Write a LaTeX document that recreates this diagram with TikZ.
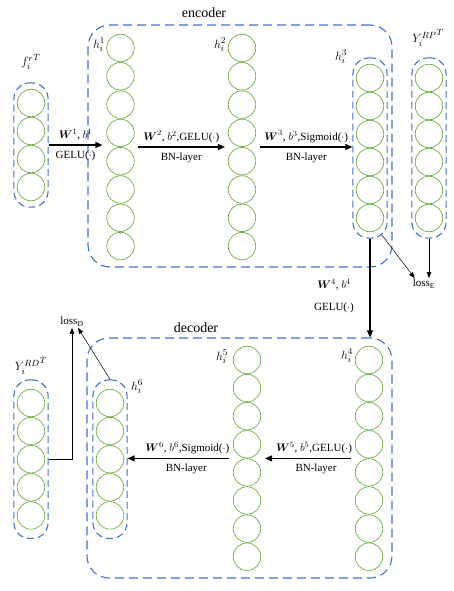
\documentclass[tikz,border=0pt]{standalone}
\usepackage{amsmath}
\usepackage{fontspec}
\setmainfont{Liberation Serif}
\usetikzlibrary{arrows.meta,fit,calc}

\definecolor{neurongreen}{RGB}{112,173,71}
\definecolor{boxblue}{RGB}{68,114,196}

\tikzset{
    neuron/.style={circle, draw=neurongreen, line width=0.7pt, minimum size=27.5pt, inner sep=0pt},
    layerbox/.style={draw=boxblue, line width=1.1pt, dash pattern=on 7pt off 4pt, rounded corners=16pt, inner xsep=3pt, inner ysep=6pt},
    groupbox/.style={draw=boxblue, line width=1.1pt, dash pattern=on 9pt off 5pt, rounded corners=22pt, inner sep=0pt},
    flow/.style={-{Triangle[length=7pt,width=6pt]}, line width=1.2pt},
    lossflow/.style={-{Triangle[length=6pt,width=4.5pt]}, line width=0.5pt},
    lbl/.style={font=\fontsize{11}{13}\selectfont, inner sep=1pt},
    hlbl/.style={font=\fontsize{13}{15}\selectfont, inner sep=0pt},
}

\begin{document}
\begin{tikzpicture}[x=1pt, y=-1pt]
    \useasboundingbox (0,0) rectangle (454,591);

    % encoder / decoder frames
    \node[groupbox, minimum width=304pt, minimum height=242pt] (encoder) at (240,146) {};
    \node[groupbox, minimum width=305pt, minimum height=240pt] (decoder) at (239.5,458) {};
    \node[font=\fontsize{14}{16}\selectfont] (enclabel) at (204,13) {encoder};
    \node[font=\fontsize{14}{16}\selectfont] (declabel) at (196,328) {decoder};

    % encoder side columns
    \foreach \i in {1,...,4}
        \node[neuron] (f-\i) at (31, 103+28*\i-28) {};
    \foreach \i in {1,...,8} {
        \node[neuron] (h1-\i) at (120.5, 48+28.3*\i-28.3) {};
        \node[neuron] (h2-\i) at (242, 48+28.3*\i-28.3) {};
    }
    \foreach \i in {1,...,6} {
        \node[neuron] (h3-\i) at (370, 78+28*\i-28) {};
        \node[neuron] (yrp-\i) at (429, 78+28*\i-28) {};
    }
    \node[layerbox, fit=(f-1)(f-4)] (fbox) {};
    \node[layerbox, fit=(h3-1)(h3-6)] (h3box) {};
    \node[layerbox, fit=(yrp-1)(yrp-6)] (yrpbox) {};

    % decoder side columns
    \foreach \i in {1,...,8} {
        \node[neuron] (h4-\i) at (369, 360+28.1*\i-28.1) {};
        \node[neuron] (h5-\i) at (247, 360+28.1*\i-28.1) {};
    }
    \foreach \i in {1,...,5} {
        \node[neuron] (h6-\i) at (110, 403+28.1*\i-28.1) {};
        \node[neuron] (yrd-\i) at (31, 403+28.1*\i-28.1) {};
    }
    \node[layerbox, inner ysep=9pt, fit=(h6-1)(h6-5)] (h6box) {};
    \node[layerbox, inner ysep=9pt, fit=(yrd-1)(yrd-5)] (yrdbox) {};

    % column labels
    \node[hlbl] (flabel) at (31,62) {${f_i^{r}}^{T}$};
    \node[hlbl] (h1label) at (99,45) {$h_i^1$};
    \node[hlbl] (h2label) at (220,45) {$h_i^2$};
    \node[hlbl] (h3label) at (341,57) {$h_i^3$};
    \node[hlbl] (yrplabel) at (428,38) {${Y_i^{RP}}^{T}$};
    \node[hlbl] (h4label) at (347,356) {$h_i^4$};
    \node[hlbl] (h5label) at (222,357) {$h_i^5$};
    \node[hlbl] (h6label) at (137,387) {$h_i^6$};
    \node[hlbl] (yrdlabel) at (31,366) {${Y_i^{RD}}^{T}$};

    % encoder flow
    \draw[flow] (fbox.east) -- ([xshift=-4pt]fbox.east -| h1-4.west)
        node[lbl, midway, above=3pt] {$\boldsymbol{W}^1$, $b^1$}
        node[lbl, midway, below=4pt] {GELU($\cdot$)};
    \draw[flow] ([xshift=3pt]h1-4.south -| h1-4.east) -- ([xshift=-3pt]h1-4.south -| h2-4.west)
        node[lbl, midway, above=3pt] {$\boldsymbol{W}^2$, $b^2$,GELU($\cdot$)}
        node[lbl, midway, below=4pt] {BN-layer};
    \draw[flow] ([xshift=4pt]h2-4.south -| h2-4.east) -- (h2-4.south -| h3box.west)
        node[lbl, midway, above=3pt] {$\boldsymbol{W}^3$, $b^3$,Sigmoid($\cdot$)}
        node[lbl, midway, below=4pt] {BN-layer};

    % encoder to decoder
    \draw[flow] (h3box.south) -- (h3box.south |- decoder.north);
    \node[lbl] (w4label) at (334,285) {$\boldsymbol{W}^4$, $b^4$};
    \node[lbl] (gelu4label) at (334,308) {GELU($\cdot$)};

    % decoder flow
    \draw[flow] ([xshift=-4pt]h4-4.south -| h4-4.west) -- ([xshift=4pt]h4-4.south -| h5-4.east)
        node[lbl, midway, above=3pt, xshift=6pt] {$\boldsymbol{W}^5$, $b^5$,GELU($\cdot$)}
        node[lbl, midway, below=4pt, xshift=8pt] {BN-layer};
    \draw[flow] ([xshift=-18pt]h5-4.south) -- (h5-4.south -| h6box.east)
        node[lbl, midway, above=3pt, xshift=9pt] {$\boldsymbol{W}^6$, $b^6$,Sigmoid($\cdot$)}
        node[lbl, midway, below=4pt, xshift=8pt] {BN-layer};

    % losses
    \node[lbl] (lossE) at (424,284) {loss\textsubscript{E}};
    \node[lbl] (lossD) at (72,322) {loss\textsubscript{D}};
    \draw[lossflow] (yrpbox.south) -- (yrpbox.south |- lossE.north);
    \draw[lossflow] ($(h3box.south east)+(-6,-4)$) -- ($(lossE.north west)+(3,0)$);
    \draw[lossflow] (yrdbox.east) -| (lossD.south);
    \draw[lossflow] (h6box.north) -- ($(lossD.south)+(6,0)$);
\end{tikzpicture}
\end{document}
